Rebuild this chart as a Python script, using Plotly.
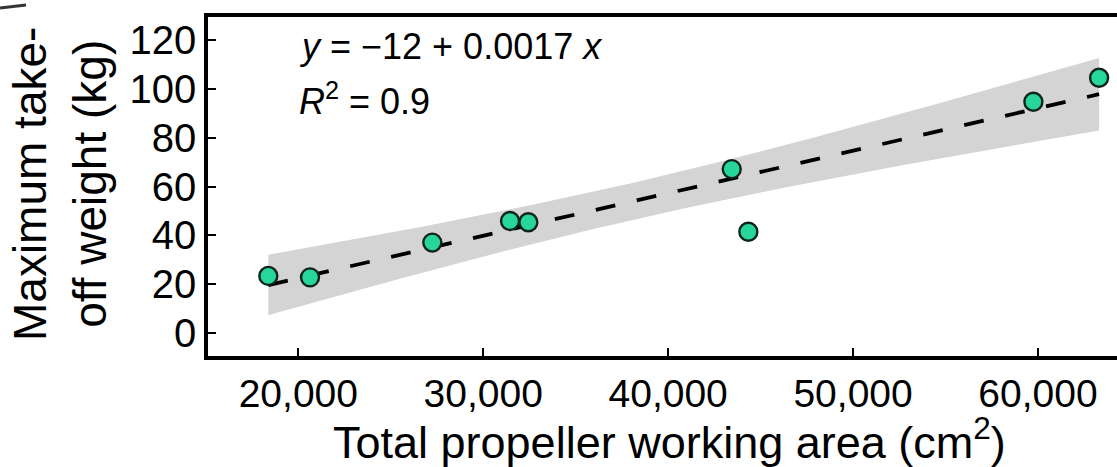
import numpy as np
import plotly.graph_objects as go

# ---- data ----
area_cm2 = [18378, 20633, 27247, 31449, 32439, 43439, 44337, 59751, 63305]
mtow_kg = [23.5, 22.9, 37.1, 45.9, 45.4, 67.1, 41.5, 94.6, 104.4]
x_ticks = [20000, 30000, 40000, 50000, 60000]
x_tick_labels = ["20,000", "30,000", "40,000", "50,000", "60,000"]
y_ticks = [0, 20, 40, 60, 80, 100, 120]
eq_text = "<i>y</i> = −12 + 0.0017 <i>x</i>"
r2_text = "<i>R</i><sup>2</sup> = 0.9"

# ---- linear fit with 95% confidence band (like geom_smooth(method='lm')) ----
x = np.array(area_cm2, dtype=float)
y = np.array(mtow_kg, dtype=float)
n = len(x)
slope, intercept = np.polyfit(x, y, 1)
resid = y - (intercept + slope * x)
s = np.sqrt(np.sum(resid ** 2) / (n - 2))
sxx = np.sum((x - x.mean()) ** 2)
t_crit = 2.364624  # t(0.975, df=7)
xs = np.linspace(x.min(), x.max(), 120)
fit = intercept + slope * xs
half = t_crit * s * np.sqrt(1.0 / n + (xs - x.mean()) ** 2 / sxx)
upper = fit + half
lower = fit - half

FONT = "Liberation Sans, Arial, sans-serif"

fig = go.Figure()
fig.add_trace(go.Scatter(
    x=np.concatenate([xs, xs[::-1]]),
    y=np.concatenate([upper, lower[::-1]]),
    fill="toself", fillcolor="#d4d4d4", line=dict(width=0),
    mode="lines", hoverinfo="skip", showlegend=False,
))
fig.add_trace(go.Scatter(
    x=xs, y=fit, mode="lines",
    line=dict(color="black", width=3.8, dash="20px,22px"),
    showlegend=False,
))
fig.add_trace(go.Scatter(
    x=area_cm2, y=mtow_kg, mode="markers",
    marker=dict(size=18, color="#26d69a", line=dict(color="#0b2318", width=2.4)),
    showlegend=False,
))

L, T, W, H = 208, 17, 1117, 467
B = 356
pw = W - L
ph = B - T


def px(xp):
    return (xp - L) / pw


def py(yp):
    return (B - yp) / ph


fig.update_layout(
    width=W, height=H,
    margin=dict(l=L, r=0, t=T, b=H - B, pad=0),
    paper_bgcolor="white", plot_bgcolor="white",
    font=dict(family=FONT, color="black"),
    showlegend=False,
    xaxis=dict(
        range=[15116, 64273], tickvals=x_ticks, ticktext=x_tick_labels,
        ticks="inside", ticklen=8, tickwidth=2, tickcolor="black",
        showline=True, linewidth=3.5, linecolor="black", mirror=True,
        showgrid=False, zeroline=False,
        tickfont=dict(size=39, family=FONT, color="black"),
    ),
    yaxis=dict(
        range=[-9.2, 129.2], tickvals=y_ticks,
        ticks="inside", ticklen=8, tickwidth=2, tickcolor="black",
        showline=True, linewidth=3.5, linecolor="black", mirror=False,
        showgrid=False, zeroline=False,
        tickfont=dict(size=40, family=FONT, color="black"),
    ),
    shapes=[
        dict(type="line", xref="paper", yref="paper",
             x0=px(0), y0=py(8), x1=px(26), y1=py(5),
             line=dict(color="#333333", width=3)),
    ],
    annotations=[
        dict(text=eq_text, xref="paper", yref="paper", x=px(297), y=py(46),
             xanchor="left", yanchor="middle", showarrow=False,
             font=dict(size=36, family=FONT, color="black")),
        dict(text=r2_text, xref="paper", yref="paper", x=px(297), y=py(99),
             xanchor="left", yanchor="middle", showarrow=False,
             font=dict(size=36, family=FONT, color="black")),
        dict(text="Total propeller working area (cm<sup>2</sup>)", xref="paper", yref="paper",
             x=px(669), y=py(439), xanchor="center", yanchor="middle", showarrow=False,
             font=dict(size=45, family=FONT, color="black")),
        dict(text="Maximum take-<br>off weight (kg)", xref="paper", yref="paper",
             x=px(60), y=py(184), xanchor="center", yanchor="middle", showarrow=False,
             textangle=-90, font=dict(size=46, family=FONT, color="black")),
    ],
)

fig.write_html("out.html")
